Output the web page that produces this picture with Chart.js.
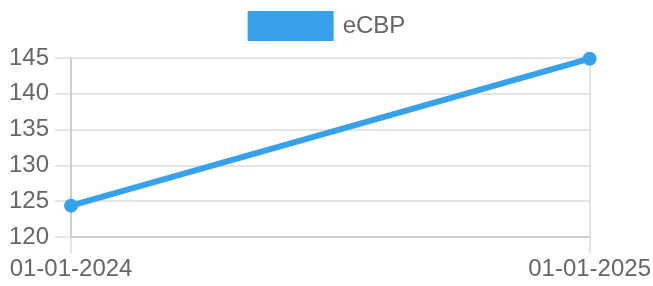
<!DOCTYPE html>
<html>
<head>
<meta charset="utf-8">
<script src="https://cdn.jsdelivr.net/npm/chart.js@4/dist/chart.umd.min.js"></script>
<style>
html,body{margin:0;padding:0;background:#fff;}
#wrap{width:653px;height:286px;}
</style>
</head>
<body>
<div id="wrap"><canvas id="c"></canvas></div>
<script>
const categories = ["01-01-2024", "01-01-2025"];
const seriesName = "eCBP";
const seriesValues = [124.4, 144.9];

const blue = "#36A2EB";
const textColor = "#666";
const gridColor = "rgba(0,0,0,0.1)";

Chart.defaults.font.family = "Arial, 'Liberation Sans', sans-serif";
Chart.defaults.font.size = 24;
Chart.defaults.color = textColor;

const legendSpacer = {
  id: "legendSpacer",
  beforeInit(chart) {
    const origFit = chart.legend.fit;
    chart.legend.fit = function () {
      origFit.bind(chart.legend)();
      this.height += 10;
    };
  }
};

new Chart(document.getElementById("c"), {
  type: "line",
  plugins: [legendSpacer],
  data: {
    labels: categories,
    datasets: [{
      label: seriesName,
      data: seriesValues,
      borderColor: blue,
      backgroundColor: blue,
      borderWidth: 6,
      pointRadius: 6,
      pointBorderWidth: 2,
      pointBackgroundColor: blue,
      pointBorderColor: blue,
      fill: false,
      tension: 0,
      clip: 12
    }]
  },
  options: {
    responsive: true,
    maintainAspectRatio: false,
    animation: false,
    layout: { padding: { left: 3, right: 0, top: 0, bottom: 0 } },
    plugins: {
      legend: {
        display: true,
        position: "top",
        labels: {
          boxWidth: 80,
          boxHeight: 24,
          padding: 14,
          color: textColor,
          font: { size: 24 }
        }
      },
      tooltip: { enabled: false }
    },
    scales: {
      x: {
        grid: { color: gridColor, tickLength: 16, lineWidth: 2 },
        border: { color: gridColor, width: 2 },
        ticks: { color: textColor, padding: 2, maxRotation: 0, font: { size: 24 } }
      },
      y: {
        min: 120,
        max: 145,
        grid: { color: gridColor, tickLength: 16, lineWidth: 2 },
        border: { color: gridColor, width: 2 },
        ticks: { color: textColor, stepSize: 5, padding: 6, font: { size: 24 } }
      }
    }
  }
});
</script>
</body>
</html>
